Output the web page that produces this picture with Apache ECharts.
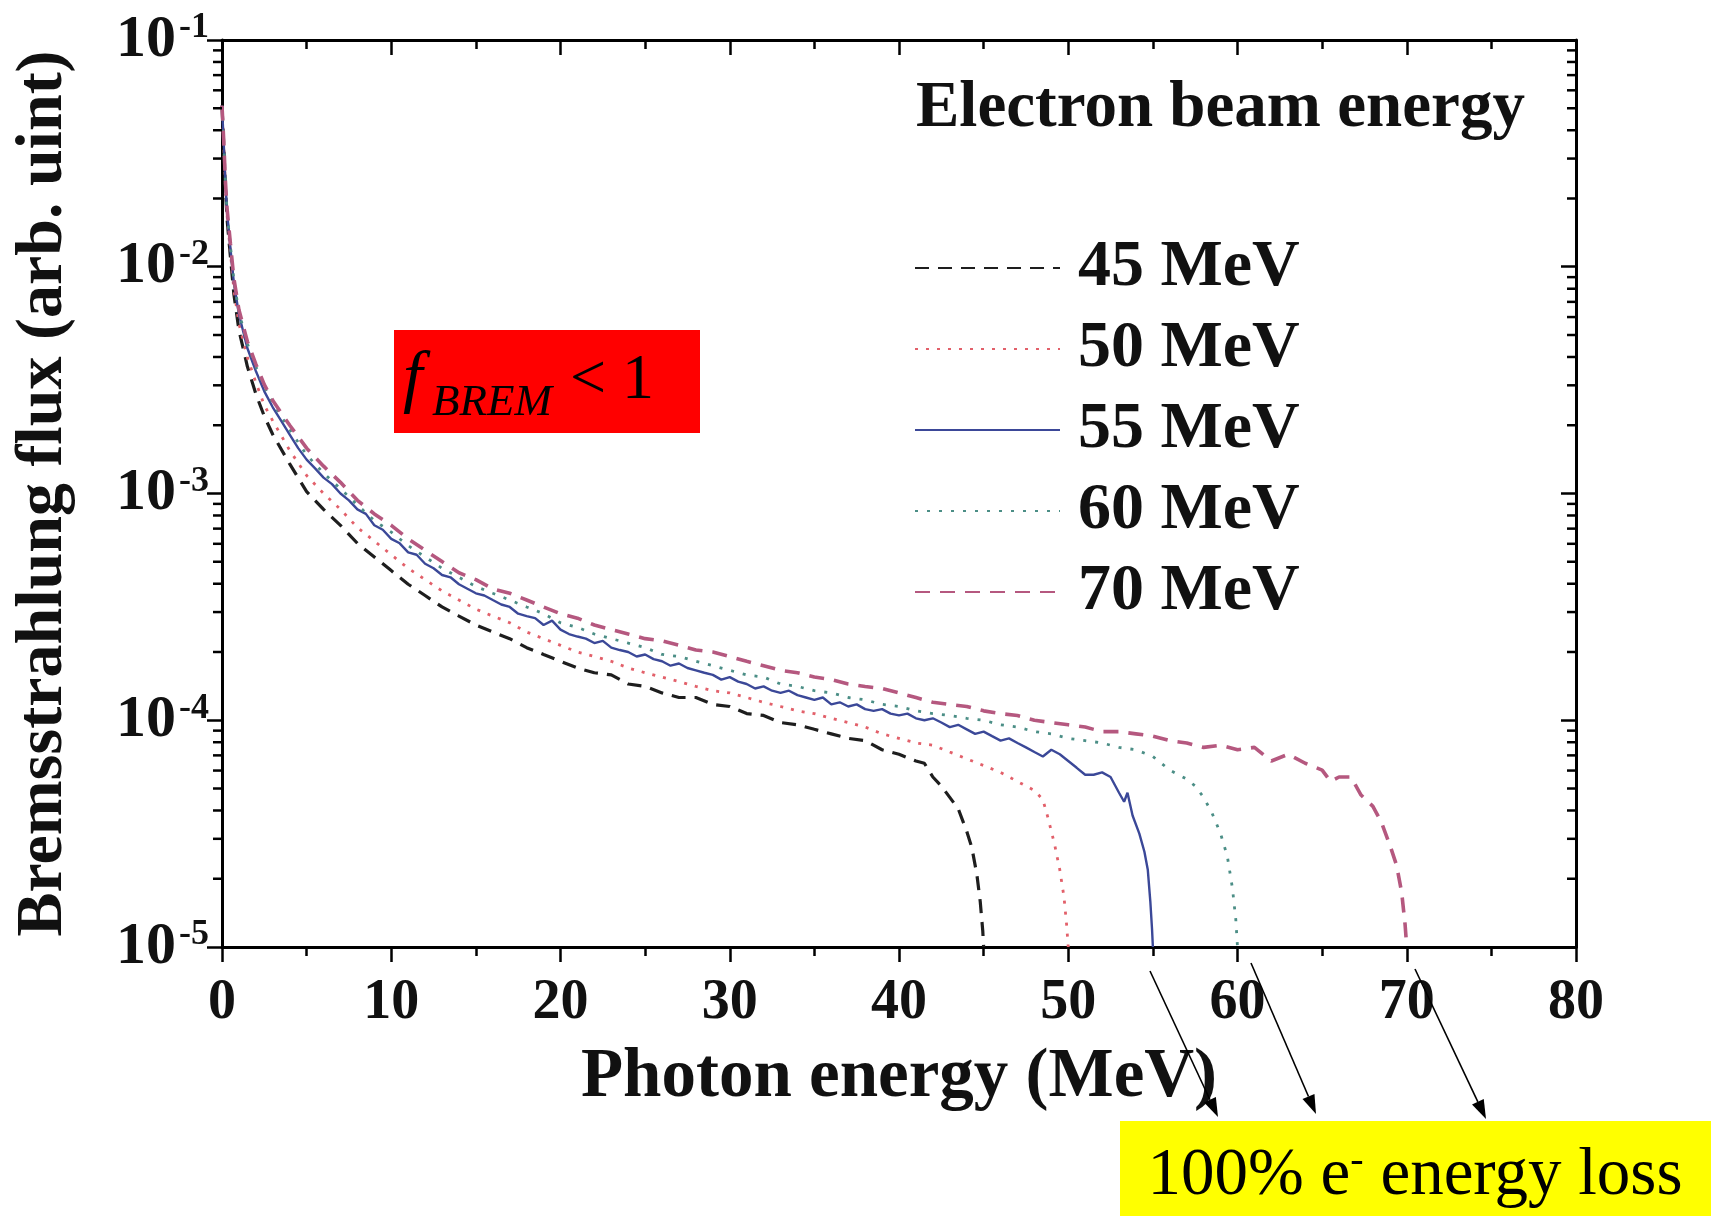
<!DOCTYPE html>
<html>
<head>
<meta charset="utf-8">
<script src="https://cdn.jsdelivr.net/npm/echarts@6.0.0/dist/echarts.min.js"></script>
<style>
html,body{margin:0;padding:0;background:#fff;}
#chart{width:1720px;height:1216px;}
</style>
</head>
<body>
<div id="chart"></div>
<script>
// ---------------- DATA (photon energy MeV, bremsstrahlung flux arb. unit) ----------------
const seriesNames = ['45 MeV', '50 MeV', '55 MeV', '60 MeV', '70 MeV'];
const xTickValues = [0, 10, 20, 30, 40, 50, 60, 70, 80];
const yTickExponents = [-5, -4, -3, -2, -1];

const flux45 = [[0,5.13e-2],[0.1,3.47e-2],[0.2,2.24e-2],[0.3,1.62e-2],[0.5,1.10e-2],[0.7,7.59e-3],[1,5.25e-3],[1.5,3.63e-3],[2,2.75e-3],[2.5,2.19e-3],[3,1.82e-3],[4,1.35e-3],[5,1.02e-3],[6,8.51e-4],[7,7.24e-4],[8,6.03e-4],[9,5.25e-4],[10,4.57e-4],[11,3.98e-4],[12,3.55e-4],[13,3.16e-4],[14,2.88e-4],[15,2.63e-4],[16,2.45e-4],[17,2.29e-4],[18,2.09e-4],[19,1.95e-4],[20,1.82e-4],[21,1.70e-4],[22,1.62e-4],[23,1.585e-4],[24,1.445e-4],[25,1.41e-4],[26,1.32e-4],[27,1.26e-4],[28,1.26e-4],[29,1.175e-4],[30,1.15e-4],[31,1.07e-4],[32,1.05e-4],[33,9.77e-5],[34,9.55e-5],[35,9.12e-5],[36,8.71e-5],[37,8.32e-5],[38,8.13e-5],[39,7.41e-5],[40,7.08e-5],[41,6.61e-5],[41.5,6.46e-5],[42,5.62e-5],[42.5,5.13e-5],[43,4.57e-5],[43.5,4.07e-5],[44,3.24e-5],[44.3,2.75e-5],[44.6,2.09e-5],[44.8,1.585e-5],[44.95,1.175e-5],[45,1.0e-5]];

const flux50 = [[0,5.13e-2],[0.1,3.51e-2],[0.2,2.29e-2],[0.3,1.68e-2],[0.5,1.15e-2],[0.7,7.94e-3],[1,5.62e-3],[1.5,3.98e-3],[2,3.09e-3],[2.5,2.45e-3],[3,2.09e-3],[4,1.55e-3],[5,1.20e-3],[6,1.00e-3],[7,8.51e-4],[8,7.08e-4],[9,6.17e-4],[10,5.37e-4],[11,4.68e-4],[12,4.17e-4],[13,3.72e-4],[14,3.39e-4],[15,3.09e-4],[16,2.88e-4],[17,2.69e-4],[18,2.45e-4],[19,2.29e-4],[20,2.14e-4],[21,2.00e-4],[22,1.91e-4],[23,1.82e-4],[24,1.70e-4],[25,1.62e-4],[26,1.55e-4],[27,1.48e-4],[28,1.41e-4],[29,1.35e-4],[30,1.32e-4],[31,1.26e-4],[32,1.20e-4],[33,1.15e-4],[34,1.10e-4],[35,1.07e-4],[36,1.02e-4],[37,9.77e-5],[38,9.33e-5],[39,8.71e-5],[40,8.32e-5],[41,7.94e-5],[42,7.76e-5],[43,7.24e-5],[44,6.76e-5],[45,6.31e-5],[46,5.89e-5],[47,5.37e-5],[48,4.90e-5],[48.5,4.47e-5],[48.8,3.72e-5],[49.2,2.82e-5],[49.5,2.19e-5],[49.75,1.66e-5],[49.9,1.26e-5],[50,1.0e-5]];

const flux55 = [[0,5.13e-2],[0.1,3.55e-2],[0.2,2.34e-2],[0.3,1.74e-2],[0.5,1.20e-2],[0.7,8.51e-3],[1,6.17e-3],[1.5,4.37e-3],[2,3.47e-3],[2.5,2.82e-3],[3,2.40e-3],[3.5,2.09e-3],[4,1.82e-3],[4.5,1.585e-3],[5,1.41e-3],[5.5,1.29e-3],[6,1.175e-3],[6.5,1.10e-3],[7,1.00e-3],[7.5,9.33e-4],[8,8.51e-4],[8.5,8.13e-4],[9,7.24e-4],[9.5,6.92e-4],[10,6.31e-4],[10.5,6.03e-4],[11,5.50e-4],[11.5,5.37e-4],[12,4.90e-4],[12.5,4.68e-4],[13,4.37e-4],[13.5,4.27e-4],[14,3.98e-4],[14.5,3.80e-4],[15,3.63e-4],[15.5,3.55e-4],[16,3.39e-4],[16.5,3.24e-4],[17,3.16e-4],[17.5,2.95e-4],[18,2.88e-4],[18.5,2.82e-4],[19,2.63e-4],[19.5,2.75e-4],[20,2.51e-4],[20.5,2.40e-4],[21,2.34e-4],[21.5,2.29e-4],[22,2.19e-4],[22.5,2.24e-4],[23,2.09e-4],[23.5,2.04e-4],[24,2.00e-4],[24.5,1.91e-4],[25,1.95e-4],[25.5,1.86e-4],[26,1.82e-4],[26.5,1.74e-4],[27,1.78e-4],[27.5,1.70e-4],[28,1.66e-4],[28.5,1.62e-4],[29,1.585e-4],[29.5,1.51e-4],[30,1.55e-4],[30.5,1.48e-4],[31,1.445e-4],[31.5,1.38e-4],[32,1.41e-4],[32.5,1.35e-4],[33,1.32e-4],[33.5,1.35e-4],[34,1.29e-4],[34.5,1.26e-4],[35,1.23e-4],[35.5,1.26e-4],[36,1.175e-4],[36.5,1.20e-4],[37,1.15e-4],[37.5,1.175e-4],[38,1.12e-4],[38.5,1.10e-4],[39,1.12e-4],[39.5,1.07e-4],[40,1.05e-4],[40.5,1.07e-4],[41,1.02e-4],[41.5,1.00e-4],[42,1.02e-4],[42.5,9.77e-5],[43,9.33e-5],[43.5,9.55e-5],[44,9.12e-5],[44.5,8.71e-5],[45,8.91e-5],[45.5,8.51e-5],[46,8.13e-5],[46.5,8.32e-5],[47,7.94e-5],[47.5,7.59e-5],[48,7.24e-5],[48.5,6.92e-5],[49,7.41e-5],[49.5,7.08e-5],[50,6.61e-5],[50.5,6.17e-5],[51,5.75e-5],[51.5,5.75e-5],[52,5.89e-5],[52.5,5.62e-5],[53,4.79e-5],[53.3,4.37e-5],[53.5,4.79e-5],[53.8,3.80e-5],[54.2,3.16e-5],[54.5,2.63e-5],[54.7,2.19e-5],[54.85,1.585e-5],[54.95,1.20e-5],[55,1.0e-5]];

const flux60 = [[0,5.13e-2],[0.1,3.55e-2],[0.2,2.37e-2],[0.3,1.76e-2],[0.5,1.23e-2],[0.7,8.71e-3],[1,6.31e-3],[1.5,4.57e-3],[2,3.63e-3],[2.5,2.95e-3],[3,2.51e-3],[4,1.91e-3],[5,1.48e-3],[6,1.23e-3],[7,1.05e-3],[8,8.91e-4],[9,7.59e-4],[10,6.76e-4],[11,5.89e-4],[12,5.25e-4],[13,4.68e-4],[14,4.27e-4],[15,3.89e-4],[16,3.63e-4],[17,3.39e-4],[18,3.16e-4],[19,2.95e-4],[20,2.69e-4],[21,2.57e-4],[22,2.40e-4],[23,2.29e-4],[24,2.19e-4],[25,2.09e-4],[26,1.95e-4],[27,1.91e-4],[28,1.82e-4],[29,1.74e-4],[30,1.66e-4],[31,1.585e-4],[32,1.55e-4],[33,1.445e-4],[34,1.41e-4],[35,1.35e-4],[36,1.32e-4],[37,1.26e-4],[38,1.23e-4],[39,1.175e-4],[40,1.15e-4],[41,1.10e-4],[42,1.07e-4],[43,1.05e-4],[44,1.02e-4],[45,1.00e-4],[46,9.55e-5],[47,9.33e-5],[48,8.91e-5],[49,8.71e-5],[50,8.32e-5],[51,8.13e-5],[52,7.94e-5],[53,7.59e-5],[54,7.41e-5],[55,6.92e-5],[56,6.03e-5],[57,5.50e-5],[57.5,5.13e-5],[58,4.57e-5],[58.5,3.89e-5],[59,3.16e-5],[59.4,2.51e-5],[59.7,1.82e-5],[59.9,1.32e-5],[60,1.0e-5]];

const flux70 = [[0,5.13e-2],[0.1,3.63e-2],[0.2,2.40e-2],[0.3,1.80e-2],[0.5,1.26e-2],[0.7,8.91e-3],[1,6.46e-3],[1.5,4.68e-3],[2,3.72e-3],[2.5,3.02e-3],[3,2.57e-3],[4,2.00e-3],[5,1.585e-3],[6,1.32e-3],[7,1.12e-3],[8,9.33e-4],[9,8.13e-4],[10,7.24e-4],[11,6.31e-4],[12,5.62e-4],[13,5.01e-4],[14,4.47e-4],[15,4.17e-4],[16,3.80e-4],[17,3.63e-4],[18,3.39e-4],[19,3.16e-4],[20,2.95e-4],[21,2.82e-4],[22,2.63e-4],[23,2.51e-4],[24,2.40e-4],[25,2.29e-4],[26,2.24e-4],[27,2.14e-4],[28,2.04e-4],[29,2.00e-4],[30,1.91e-4],[31,1.82e-4],[32,1.74e-4],[33,1.66e-4],[34,1.62e-4],[35,1.55e-4],[36,1.51e-4],[37,1.445e-4],[38,1.41e-4],[39,1.38e-4],[40,1.32e-4],[41,1.26e-4],[42,1.20e-4],[43,1.175e-4],[44,1.15e-4],[45,1.10e-4],[46,1.07e-4],[47,1.05e-4],[48,1.00e-4],[49,9.77e-5],[50,9.55e-5],[51,9.33e-5],[52,8.91e-5],[53,8.91e-5],[54,8.71e-5],[55,8.51e-5],[56,8.13e-5],[57,7.94e-5],[58,7.59e-5],[59,7.76e-5],[60,7.41e-5],[61,7.59e-5],[62,6.61e-5],[63,7.08e-5],[64,6.46e-5],[65,6.03e-5],[65.5,5.37e-5],[66,5.62e-5],[66.7,5.62e-5],[67.3,4.68e-5],[68,4.17e-5],[68.5,3.55e-5],[69,2.82e-5],[69.4,2.29e-5],[69.7,1.74e-5],[69.9,1.26e-5],[70,1.0e-5]];

// ---------------- CHART ----------------
const FONT = '"Liberation Serif", "Times New Roman", Times, serif';
const chart = echarts.init(document.getElementById('chart'), null, {renderer: 'canvas'});

// log-axis minor tick positions (2..9 within each decade)
const minorTickValues = [];
for (let e = -5; e <= -2; e++) {
  for (let m = 2; m <= 9; m++) minorTickValues.push(m * Math.pow(10, e));
}

function renderMinor(params, api) {
  const v = api.value(1);
  const pL = api.coord([0, v]);
  const pR = api.coord([80, v]);
  const st = {stroke: '#000', lineWidth: 2.5};
  return {
    type: 'group',
    children: [
      {type: 'line', shape: {x1: pL[0] - 9, y1: pL[1], x2: pL[0], y2: pL[1]}, style: st},
      {type: 'line', shape: {x1: pR[0] - 9, y1: pR[1], x2: pR[0], y2: pR[1]}, style: st}
    ]
  };
}

function arrow(x1, y1, x2, y2) {
  const dx = x2 - x1, dy = y2 - y1, L = Math.hypot(dx, dy);
  const ux = dx / L, uy = dy / L, hl = 19, hw = 6.5;
  const bx = x2 - ux * hl, by = y2 - uy * hl;
  return [
    {type: 'line', shape: {x1: x1, y1: y1, x2: bx, y2: by}, style: {stroke: '#000', lineWidth: 1.6}, z: 20},
    {type: 'polygon', shape: {points: [[x2, y2], [bx - uy * hw, by + ux * hw], [bx + uy * hw, by - ux * hw]]}, style: {fill: '#000'}, z: 20}
  ];
}

const axisLineStyle = {color: '#000', width: 3};
const lineDefs = [
  {name: seriesNames[0], data: flux45, color: '#1e1e1e', width: 3.2, type: [14, 9]},
  {name: seriesNames[1], data: flux50, color: '#e2606a', width: 2.8, type: [3, 8]},
  {name: seriesNames[2], data: flux55, color: '#3b4898', width: 2.4, type: 'solid'},
  {name: seriesNames[3], data: flux60, color: '#4b8e86', width: 2.8, type: [3, 9]},
  {name: seriesNames[4], data: flux70, color: '#b5587f', width: 3.6, type: [15, 10]}
];

const option = {
  animation: false,
  backgroundColor: '#fff',
  grid: {left: 222, right: 144, top: 40, bottom: 269, containLabel: false},
  legend: {
    orient: 'vertical', left: 914, top: 233, padding: 0,
    itemWidth: 145, itemHeight: 4, itemGap: 11,
    itemStyle: {opacity: 0},
    data: seriesNames,
    textStyle: {fontFamily: FONT, fontWeight: 'bold', fontSize: 66, color: '#111', lineHeight: 70, padding: [0, 0, 0, 13]}
  },
  xAxis: [
    {
      type: 'value', min: 0, max: 80, interval: 10, position: 'bottom',
      axisLine: {onZero: false, lineStyle: axisLineStyle},
      axisTick: {show: true, inside: false, length: 15, lineStyle: {color: '#000', width: 2.5}},
      minorTick: {show: true, splitNumber: 2, length: 9, lineStyle: {color: '#000', width: 2.5}},
      splitLine: {show: false},
      axisLabel: {
        margin: 29, color: '#111', fontFamily: FONT, fontWeight: 'bold', fontSize: 56,
        formatter: v => (xTickValues.indexOf(v) >= 0 ? String(v) : '')
      },
      name: 'Photon energy (MeV)', nameLocation: 'middle', nameGap: 97,
      nameTextStyle: {fontFamily: FONT, fontWeight: 'bold', fontSize: 69, color: '#111'}
    },
    {
      type: 'value', min: 0, max: 80, interval: 10, position: 'top',
      axisLine: {onZero: false, lineStyle: axisLineStyle},
      axisTick: {show: true, inside: true, length: 15, lineStyle: {color: '#000', width: 2.5}},
      minorTick: {show: true, splitNumber: 2, length: 9, lineStyle: {color: '#000', width: 2.5}},
      splitLine: {show: false},
      axisLabel: {show: false}
    }
  ],
  yAxis: [
    {
      type: 'log', logBase: 10, min: 1e-5, max: 1e-1, position: 'left',
      axisLine: {onZero: false, lineStyle: axisLineStyle},
      axisTick: {show: true, inside: false, length: 15, lineStyle: {color: '#000', width: 2.5}},
      minorTick: {show: false},
      splitLine: {show: false},
      axisLabel: {
        margin: 13,
        formatter: v => {
          const e = Math.round(Math.log10(v));
          if (yTickExponents.indexOf(e) < 0) return '';
          return '{b|10}{s|' + e + '}';
        },
        rich: {
          b: {fontFamily: FONT, fontWeight: 'bold', fontSize: 60, color: '#111', lineHeight: 60},
          s: {fontFamily: FONT, fontWeight: 'bold', fontSize: 36, color: '#111', verticalAlign: 'top', lineHeight: 34, padding: [0, 0, 0, 3]}
        }
      },
      name: 'Bremsstrahlung flux (arb. uint)', nameLocation: 'middle', nameGap: 145,
      nameTextStyle: {fontFamily: FONT, fontWeight: 'bold', fontSize: 66, color: '#111'}
    },
    {
      type: 'log', logBase: 10, min: 1e-5, max: 1e-1, position: 'right',
      axisLine: {onZero: false, lineStyle: axisLineStyle},
      axisTick: {show: true, inside: true, length: 15, lineStyle: {color: '#000', width: 2.5}},
      minorTick: {show: false},
      splitLine: {show: false},
      axisLabel: {show: false}
    }
  ],
  series: lineDefs.map(d => ({
    name: d.name, type: 'line', xAxisIndex: 0, yAxisIndex: 0,
    data: d.data, symbol: 'none', showSymbol: false, smooth: false,
    lineStyle: {color: d.color, width: d.width, type: d.type},
    itemStyle: {color: d.color},
    z: 3
  })).concat([{
    type: 'custom', xAxisIndex: 0, yAxisIndex: 0, silent: true, clip: false, z: 6,
    renderItem: renderMinor,
    data: minorTickValues.map(v => [0, v]),
    encode: {x: 0, y: 1}
  }]),
  graphic: [
    {type: 'text', left: 916, top: 77, z: 10,
     style: {text: 'Electron beam energy', font: 'bold 65px ' + FONT, fill: '#111'}},
    {type: 'rect', shape: {x: 394, y: 330, width: 306, height: 103}, style: {fill: '#ff0000'}, z: 10},
    {type: 'text', x: 403, y: 381, z: 11,
     style: {text: 'f', font: 'italic 70px ' + FONT, fill: '#000', verticalAlign: 'middle'}},
    {type: 'text', x: 432, y: 403, z: 11,
     style: {text: 'BREM', font: 'italic 45px ' + FONT, fill: '#000', verticalAlign: 'middle'}},
    {type: 'text', x: 570, y: 381, z: 11,
     style: {text: '< 1', font: '64px ' + FONT, fill: '#000', verticalAlign: 'middle'}},
    {type: 'rect', shape: {x: 1120, y: 1121, width: 591, height: 95}, style: {fill: '#ffff00'}, z: 10},
    {type: 'text', x: 1415, y: 1176, z: 11,
     style: {
       text: '{n|100% e}{p|-}{n| energy loss}', align: 'center', verticalAlign: 'middle',
       rich: {
         n: {fontFamily: FONT, fontSize: 67, fill: '#000', lineHeight: 70},
         p: {fontFamily: FONT, fontSize: 40, fill: '#000', verticalAlign: 'top', lineHeight: 40}
       }
     }}
  ].concat(arrow(1150, 971, 1218, 1117), arrow(1251, 963, 1316, 1114), arrow(1415, 969, 1486, 1119))
};

chart.setOption(option);
</script>
</body>
</html>
